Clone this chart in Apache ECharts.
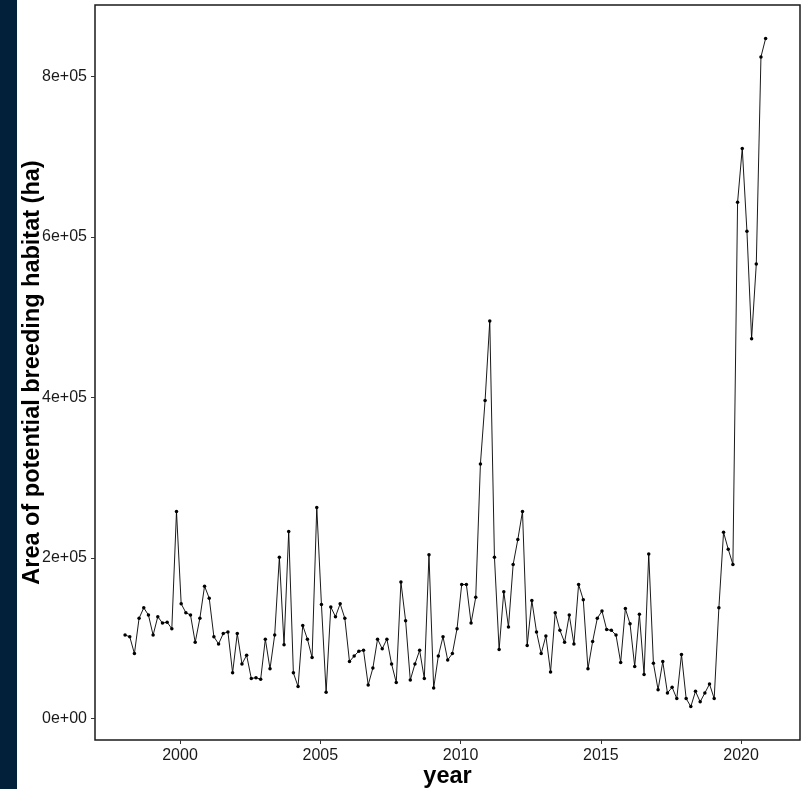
<!DOCTYPE html>
<html>
<head>
<meta charset="utf-8">
<title>Area of potential breeding habitat</title>
<script src="https://cdn.jsdelivr.net/npm/echarts@6/dist/echarts.min.js"></script>
<style>
  html, body { margin: 0; padding: 0; background: #ffffff; }
  #wrap { position: relative; width: 808px; height: 789px; overflow: hidden; }
  #chart { position: absolute; left: 0; top: 0; width: 808px; height: 789px; }
  #edge { position: absolute; left: 0; top: 0; width: 17px; height: 789px; background: #02203a; }
</style>
</head>
<body>
<div id="wrap">
  <div id="chart"></div>
  <div id="edge"></div>
</div>
<script>
// Bimonthly estimates, six periods per year, starting January 1998
const startYear = 1998;
const periodsPerYear = 6;
const habitatHa = [
  104000, 102000,  81000, 125000, 138000, 129000, // 1998
  104000, 127000, 119000, 120000, 112000, 258000, // 1999
  143000, 132000, 129000,  95000, 125000, 165000, // 2000
  150000, 102000,  93000, 106000, 108000,  57000, // 2001
  106000,  68000,  79000,  50000,  51000,  49000, // 2002
   99000,  62000, 104000, 201000,  92000, 233000, // 2003
   57000,  40000, 116000,  99000,  76000, 263000, // 2004
  142000,  33000, 139000, 127000, 143000, 125000, // 2005
   71000,  78000,  84000,  85000,  42000,  63000, // 2006
   99000,  87000,  99000,  68000,  45000, 170000, // 2007
  122000,  48000,  68000,  85000,  50000, 204000, // 2008
   38000,  78000, 102000,  73000,  81000, 112000, // 2009
  167000, 167000, 119000, 151000, 317000, 396000, // 2010
  495000, 201000,  86000, 158000, 114000, 192000, // 2011
  223000, 258000,  91000, 147000, 108000,  81000, // 2012
  103000,  58000, 132000, 110000,  95000, 129000, // 2013
   93000, 167000, 148000,  62000,  96000, 125000, // 2014
  134000, 111000, 110000, 104000,  70000, 137000, // 2015
  118000,  65000, 130000,  55000, 205000,  69000, // 2016
   36000,  71000,  32000,  39000,  25000,  80000, // 2017
   25000,  15000,  34000,  21000,  32000,  43000, // 2018
   25000, 138000, 232000, 211000, 192000, 643000, // 2019
  710000, 607000, 473000, 566000, 824000, 847000  // 2020
];
const yearTicks = [2000, 2005, 2010, 2015, 2020];
const areaTicks = [0, 200000, 400000, 600000, 800000];

// decimal-year position of each period (middle of its first month)
const points = habitatHa.map((v, i) => [
  startYear + Math.floor(i / periodsPerYear) + (i % periodsPerYear) / periodsPerYear + 1 / 24,
  v
]);

function sci(v) {
  if (v === 0) return '0e+00';
  const e = Math.floor(Math.log10(Math.abs(v)));
  const m = v / Math.pow(10, e);
  return m + 'e+' + String(e).padStart(2, '0');
}

const font = '"Liberation Sans", Arial, sans-serif';
const chart = echarts.init(document.getElementById('chart'), null, { renderer: 'canvas' });
chart.setOption({
  animation: false,
  backgroundColor: '#ffffff',
  grid: {
    left: 95, right: 8, top: 5, bottom: 49,
    outerBoundsMode: 'none',
    show: true, borderColor: '#1a1a1a', borderWidth: 1.5, backgroundColor: '#ffffff'
  },
  xAxis: {
    type: 'value',
    min: 1996.97, max: 2022.1,
    axisLine: { show: false, onZero: false },
    splitLine: { show: false },
    axisTick: { show: true, inside: false, customValues: yearTicks, length: 4, lineStyle: { color: '#333', width: 1 } },
    axisLabel: { customValues: yearTicks, fontSize: 16, color: '#1a1a1a', fontFamily: font, margin: 8,
                 formatter: v => String(v) },
    name: 'year', nameLocation: 'middle', nameGap: 25, nameMoveOverlap: false,
    nameTextStyle: { fontSize: 23.5, fontWeight: 'bold', color: '#000', fontFamily: font }
  },
  yAxis: {
    type: 'value',
    min: -26600, max: 888600,
    axisLine: { show: false, onZero: false },
    splitLine: { show: false },
    axisTick: { show: true, inside: false, customValues: areaTicks, length: 4, lineStyle: { color: '#333', width: 1 } },
    axisLabel: { customValues: areaTicks, fontSize: 16, color: '#1a1a1a', fontFamily: font, margin: 8, formatter: sci },
    name: 'Area of potential breeding habitat (ha)', nameLocation: 'middle', nameGap: 50, nameRotate: 90,
    nameMoveOverlap: false,
    nameTextStyle: { fontSize: 23.5, fontWeight: 'bold', color: '#000', fontFamily: font }
  },
  series: [{
    type: 'line',
    data: points,
    symbol: 'circle',
    symbolSize: 3.5,
    showSymbol: true,
    lineStyle: { color: '#000', width: 0.9 },
    itemStyle: { color: '#000' },
    emphasis: { disabled: true }
  }]
});
</script>
</body>
</html>
